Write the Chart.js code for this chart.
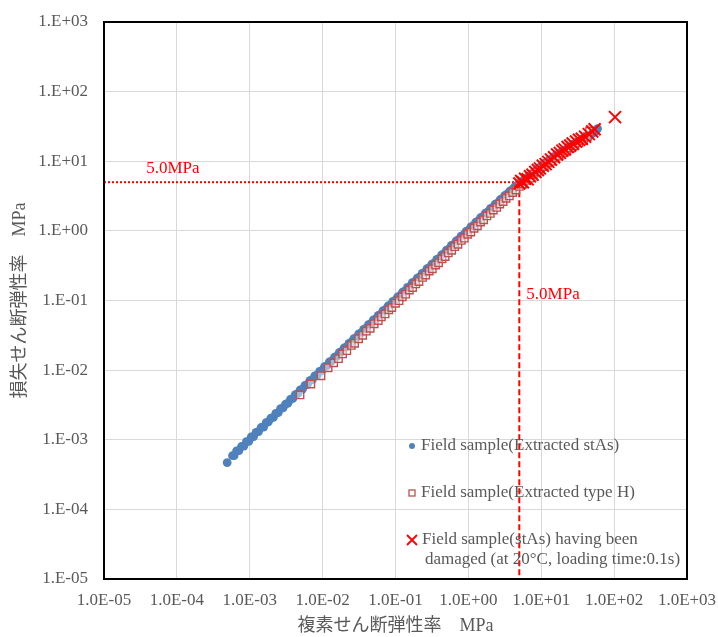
<!DOCTYPE html>
<html><head><meta charset="utf-8">
<script src="https://cdn.jsdelivr.net/npm/chart.js@4"></script>
<style>html,body{margin:0;padding:0;background:#fff}canvas{display:block}</style>
</head><body>
<canvas id="c" width="718" height="637"></canvas>
<script>
// ---- data (x: complex shear modulus MPa, y: loss shear modulus MPa) ----
const fieldStAs = [[0.00049,0.00047],[0.00058,0.00059],[0.00061,0.00059],[0.00066,0.00069],[0.00071,0.00070],[0.00077,0.00080],[0.00083,0.00081],[0.00090,0.00094],[0.00097,0.00095],[0.00105,0.00110],[0.00113,0.00111],[0.00122,0.00128],[0.00132,0.00131],[0.00143,0.00150],[0.00155,0.00152],[0.00168,0.00176],[0.00180,0.00181],[0.00195,0.00205],[0.00211,0.00209],[0.00228,0.00240],[0.00246,0.00245],[0.00265,0.00280],[0.00287,0.00288],[0.00310,0.00325],[0.00335,0.00336],[0.00362,0.00381],[0.00390,0.00392],[0.00422,0.00445],[0.00455,0.00458],[0.00492,0.00520],[0.00530,0.00535],[0.00573,0.00605],[0.00620,0.00625],[0.00668,0.00705],[0.00722,0.00730],[0.00780,0.00825],[0.00842,0.00850],[0.00910,0.00962],[0.00982,0.00995],[0.0106,0.0112],[0.0115,0.0116],[0.0124,0.0131],[0.0134,0.0136],[0.0145,0.0153],[0.0156,0.0158],[0.0169,0.0179],[0.0182,0.0185],[0.0197,0.0208],[0.0213,0.0216],[0.0230,0.0243],[0.0248,0.0252],[0.0268,0.0284],[0.0290,0.0294],[0.0313,0.0331],[0.0338,0.0343],[0.0365,0.0386],[0.0394,0.0400],[0.0426,0.0450],[0.0460,0.0467],[0.0497,0.0525],[0.0537,0.0545],[0.0580,0.0613],[0.0626,0.0636],[0.0676,0.0715],[0.0730,0.0742],[0.0789,0.0834],[0.0852,0.0866],[0.0920,0.0973],[0.0994,0.101],[0.107,0.113],[0.116,0.118],[0.125,0.132],[0.135,0.137],[0.146,0.154],[0.158,0.160],[0.170,0.180],[0.184,0.187],[0.199,0.210],[0.215,0.218],[0.232,0.245],[0.250,0.254],[0.270,0.286],[0.292,0.297],[0.315,0.333],[0.341,0.346],[0.368,0.389],[0.397,0.404],[0.429,0.453],[0.463,0.471],[0.500,0.528],[0.540,0.549],[0.584,0.617],[0.630,0.641],[0.681,0.720],[0.735,0.748],[0.794,0.839],[0.857,0.872],[0.926,0.979],[1.00,1.02],[1.08,1.14],[1.17,1.19],[1.26,1.33],[1.36,1.38],[1.47,1.55],[1.59,1.61],[1.71,1.80],[1.85,1.87],[2.00,2.09],[2.16,2.17],[2.33,2.42],[2.52,2.51],[2.72,2.80],[2.94,2.92],[3.17,3.24],[3.43,3.39],[3.70,3.72],[4.00,3.91],[4.32,4.30],[4.66,4.50],[5.04,4.85],[5.44,5.15],[5.87,5.45],[6.34,5.80],[6.85,6.20],[7.40,6.50],[7.99,7.05],[8.63,7.40],[9.32,8.10],[10.1,8.5],[10.9,9.3],[11.7,9.6],[12.7,10.4],[13.7,10.7],[14.8,11.6],[16.0,11.9],[17.2,12.9],[18.6,13.2],[20.1,14.4],[21.7,14.7],[23.5,15.9],[25.3,16.2],[27.4,17.6],[29.6,17.9],[31.9,19.3],[34.5,19.6],[37.2,21.1],[40.2,21.4],[43.5,23.2],[47.0,23.5],[50.7,25.4],[54.8,26.6],[59.2,29.5],[57.0,28.0]];

const fieldTypeH = [[0.0049,0.0044],[0.0069,0.0063],[0.0095,0.0083],[0.0119,0.0108],[0.0142,0.0127],[0.0165,0.0146],[0.0188,0.0171],[0.0215,0.0190],[0.0248,0.0226],[0.0275,0.0243],[0.0312,0.0282],[0.0355,0.0316],[0.0398,0.0362],[0.045,0.0398],[0.051,0.0462],[0.058,0.0515],[0.064,0.0583],[0.072,0.064],[0.081,0.0735],[0.089,0.079],[0.10,0.091],[0.112,0.0995],[0.124,0.113],[0.138,0.123],[0.155,0.141],[0.172,0.153],[0.19,0.173],[0.21,0.187],[0.235,0.214],[0.26,0.232],[0.29,0.264],[0.32,0.285],[0.355,0.323],[0.39,0.348],[0.435,0.396],[0.48,0.428],[0.53,0.482],[0.59,0.526],[0.65,0.592],[0.72,0.642],[0.80,0.728],[0.88,0.785],[0.98,0.892],[1.08,0.96],[1.2,1.09],[1.33,1.18],[1.47,1.34],[1.62,1.44],[1.8,1.64],[2.0,1.78],[2.2,1.99],[2.45,2.17],[2.7,2.43],[3.0,2.64],[3.3,2.94],[3.65,3.17],[4.05,3.55],[4.5,3.85],[5.0,4.35],[5.6,4.7],[6.2,5.3],[7.0,5.7],[7.8,6.5],[8.7,7.0],[9.8,7.8],[11,8.4],[12.3,9.4],[13.8,10.0],[15.5,11.1],[17.5,11.8],[19.8,13.2],[22.5,14.0],[25.5,15.5],[29,16.6],[33,18.3],[38,19.8],[43,22.5],[46,27.0]];

const fieldDamaged = [[5.0,4.8],[5.3,5.2],[5.6,5.0],[6.0,5.6],[6.5,5.5],[7.0,6.1],[7.6,6.4],[8.3,7.0],[9.0,7.5],[9.6,7.9],[10.5,8.6],[11.5,9.1],[12.5,9.8],[13.6,10.6],[15.0,11.4],[16.5,12.5],[18,13.2],[19.5,14.2],[21,14.8],[23,16.0],[25,16.8],[27,18.0],[30,19.2],[33,20.3],[36,21.0],[40,22.5],[45,24.5],[50,26.8],[54,28.8],[103,43]];

const refValue = 5.0;          // MPa reference lines
const refLabel = '5.0MPa';
const xTickValues = [1e-5,1e-4,1e-3,1e-2,1e-1,1e0,1e1,1e2,1e3];
const xTickLabels = ['1.0E-05','1.0E-04','1.0E-03','1.0E-02','1.0E-01','1.0E+00','1.0E+01','1.0E+02','1.0E+03'];
const yTickValues = [1e-5,1e-4,1e-3,1e-2,1e-1,1e0,1e1,1e2,1e3];
const yTickLabels = ['1.E-05','1.E-04','1.E-03','1.E-02','1.E-01','1.E+00','1.E+01','1.E+02','1.E+03'];
const xTitle = '複素せん断弾性率　MPa';
const yTitle = '損失せん断弾性率　MPa';
const seriesNames = ['Field sample(Extracted stAs)','Field sample(Extracted type H)',['Field sample(stAs) having been','damaged (at 20°C, loading time:0.1s)']];

// ---- chart ----
const FONT = "'Liberation Serif','Times New Roman','Noto Sans CJK JP',serif";
const GRAY = '#595959';
const toPts = a => a.map(p => ({x:p[0], y:p[1]}));
const xMin = xTickValues[0], xMax = xTickValues[xTickValues.length-1];
const yMin = yTickValues[0], yMax = yTickValues[yTickValues.length-1];

const framePlugin = {
  id:'frame',
  afterDatasetsDraw(chart){
    const {ctx, chartArea:a, scales:{x, y}} = chart;
    ctx.save();
    ctx.strokeStyle = '#000'; ctx.lineWidth = 2;
    ctx.strokeRect(a.left, a.top, a.right - a.left, a.bottom - a.top);
    ctx.fillStyle = '#FF0000';
    ctx.font = '17px ' + FONT;
    ctx.textAlign = 'left'; ctx.textBaseline = 'alphabetic';
    ctx.fillText(refLabel, x.getPixelForValue(3.8e-5), y.getPixelForValue(refValue) - 9);
    ctx.fillText(refLabel, x.getPixelForValue(refValue) + 7, y.getPixelForValue(0.105));
    ctx.font = '17px ' + FONT;
    ctx.textBaseline = 'middle';
    const lx = 412;
    ctx.fillStyle = '#4F81BD';
    ctx.beginPath(); ctx.arc(lx, 446, 3, 0, Math.PI*2); ctx.fill();
    ctx.fillStyle = GRAY; ctx.fillText(seriesNames[0], 421, 446);
    ctx.strokeStyle = '#C0504D'; ctx.lineWidth = 1.3; ctx.fillStyle = '#fff';
    ctx.fillRect(lx-3, 490, 6, 6); ctx.strokeRect(lx-3, 490, 6, 6);
    ctx.fillStyle = GRAY; ctx.fillText(seriesNames[1], 421, 493);
    ctx.strokeStyle = '#FF0000'; ctx.lineWidth = 1.8;
    ctx.beginPath(); ctx.moveTo(lx-5, 535); ctx.lineTo(lx+5, 545); ctx.moveTo(lx+5, 535); ctx.lineTo(lx-5, 545); ctx.stroke();
    ctx.fillStyle = GRAY;
    ctx.fillText(seriesNames[2][0], 422, 540);
    ctx.fillText(seriesNames[2][1], 425, 560);
    ctx.restore();
  }
};

const tickFont = {family:FONT, size:17};
new Chart(document.getElementById('c'), {
  type:'scatter',
  data:{datasets:[
    {label:seriesNames[2].join(' '), data:toPts(fieldDamaged), pointStyle:'crossRot', pointRadius:8.5, borderColor:'#FF0000', backgroundColor:'#FF0000', borderWidth:2, order:0},
    {label:seriesNames[1], data:toPts(fieldTypeH), pointStyle:'rect', pointRadius:5.2, borderColor:'#C0504D', backgroundColor:'rgba(255,255,255,0.45)', borderWidth:1.4, order:1},
    {label:seriesNames[0], data:toPts(fieldStAs), pointStyle:'circle', pointRadius:4.4, borderWidth:0, backgroundColor:'#4F81BD', borderColor:'#4F81BD', order:2},
    {label:'h', data:[{x:xMin, y:refValue},{x:refValue, y:refValue}], showLine:true, pointRadius:0, borderColor:'#FF0000', borderWidth:2, borderDash:[2,2], order:3},
    {label:'v', data:[{x:refValue, y:refValue},{x:refValue, y:yMin}], showLine:true, pointRadius:0, borderColor:'#FF0000', borderWidth:2, borderDash:[6,3], order:3}
  ]},
  options:{
    responsive:false, animation:false, devicePixelRatio:1,
    layout:{padding:{left:0, top:22, right:31, bottom:0}},
    plugins:{legend:{display:false}, tooltip:{enabled:false}},
    scales:{
      x:{type:'logarithmic', min:xMin, max:xMax,
        afterBuildTicks:s=>{s.ticks = xTickValues.map(v=>({value:v}));},
        afterFit:s=>{s.height = 58; s.paddingLeft = 0; s.paddingRight = 0;},
        grid:{color:'#d9d9d9', lineWidth:1, drawTicks:false}, border:{display:false},
        ticks:{padding:11, color:GRAY, font:tickFont, autoSkip:false, maxRotation:0, minRotation:0, callback:(v,i)=>xTickLabels[i]},
        title:{display:true, text:xTitle, color:GRAY, font:{family:FONT, size:18}, padding:{top:0, bottom:0}}},
      y:{type:'logarithmic', min:yMin, max:yMax,
        afterBuildTicks:s=>{s.ticks = yTickValues.map(v=>({value:v}));},
        afterFit:s=>{s.width = 104; s.paddingTop = 0; s.paddingBottom = 0;},
        grid:{color:'#d9d9d9', lineWidth:1, drawTicks:false}, border:{display:false},
        ticks:{padding:16, color:GRAY, font:tickFont, autoSkip:false, callback:(v,i)=>yTickLabels[i]},
        title:{display:true, text:yTitle, color:GRAY, font:{family:FONT, size:18}, padding:{top:9, bottom:0}}}
    }
  },
  plugins:[framePlugin]
});
</script>
</body></html>
